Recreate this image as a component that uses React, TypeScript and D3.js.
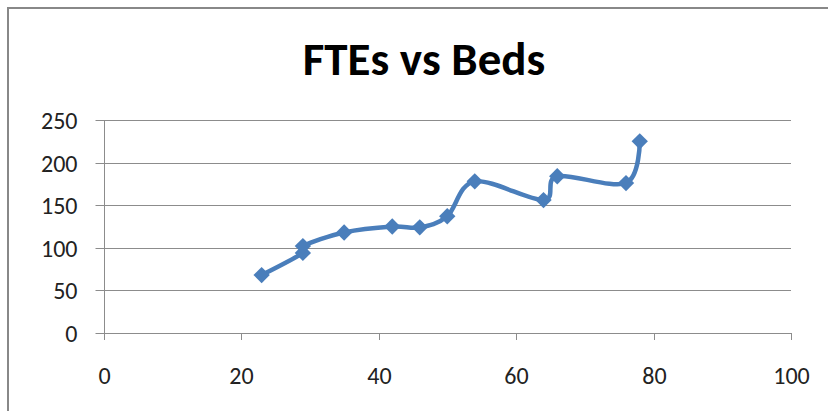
import * as d3 from "d3";

// beds (x) and FTEs (y), in the order the line visits them
const beds = [23, 29, 29, 35, 42, 46, 50, 54, 64, 66, 76, 78];
const ftes = [68, 94, 102, 118, 125, 124, 137, 178, 156, 184, 176, 225];
const xTicks = [0, 20, 40, 60, 80, 100];
const yTicks = [0, 50, 100, 150, 200, 250];
const title = "FTEs vs Beds";

const width = 828;
const height = 411;
const margin = { top: 120, right: 37, bottom: 78, left: 103.5 };

const blue = "#4a7ebb";
const grid = "#8c8c8c";
const font = "Carlito, Calibri, 'Liberation Sans', sans-serif";

export default function App() {
  let x = d3
    .scaleLinear()
    .domain([0, 100])
    .range([margin.left, width - margin.right]);
  let y = d3
    .scaleLinear()
    .domain([0, 250])
    .range([height - margin.bottom, margin.top]);

  let points = beds.map((b, i) => [x(b), y(ftes[i])] as [number, number]);
  // excel-style smoothed line, close to a uniform catmull-rom
  let line = d3.line().curve(d3.curveCardinal.tension(0));
  let d = line(points);
  let diamond = d3.symbol().type(d3.symbolDiamond2).size(170)();

  return (
    <svg
      width={width}
      height={height}
      style={{ position: "absolute", left: 0, top: 0, background: "white" }}
    >
      {/* chart border, runs off the picture to the right and bottom */}
      <rect x={8} y={8} width={width + 20} height={height + 20} fill="white" stroke="#888" strokeWidth={2} />

      <text
        x={424}
        y={75}
        textAnchor="middle"
        fontFamily={font}
        fontWeight="bold"
        fontSize={47}
        fill="#000"
      >
        {title}
      </text>

      {/* Y gridlines + labels */}
      {yTicks.map((t) => (
        <g key={t} transform={`translate(0,${Math.round(y(t)) + 0.5})`}>
          <line x1={x(0) - 8} x2={x(100)} stroke={grid} />
          <text
            x={x(0) - 26}
            dy="0.35em"
            textAnchor="end"
            fontFamily={font}
            fontSize={24}
            fill="#222"
          >
            {t}
          </text>
        </g>
      ))}

      {/* Y axis line */}
      <line
        x1={Math.round(x(0)) + 0.5}
        x2={Math.round(x(0)) + 0.5}
        y1={y(250)}
        y2={y(0) + 7}
        stroke={grid}
      />

      {/* X ticks + labels */}
      {xTicks.map((t) => (
        <g key={t} transform={`translate(${Math.round(x(t)) + 0.5},0)`}>
          <line y1={y(0)} y2={y(0) + 7} stroke={grid} />
          <text
            y={y(0) + 51}
            textAnchor="middle"
            fontFamily={font}
            fontSize={24}
            fill="#222"
          >
            {t}
          </text>
        </g>
      ))}

      {/* Line */}
      <path d={d ?? ""} fill="none" stroke={blue} strokeWidth={4.5} strokeLinejoin="round" />

      {/* Markers */}
      {points.map(([px, py], i) => (
        <path key={i} d={diamond ?? ""} transform={`translate(${px},${py})`} fill={blue} />
      ))}
    </svg>
  );
}
